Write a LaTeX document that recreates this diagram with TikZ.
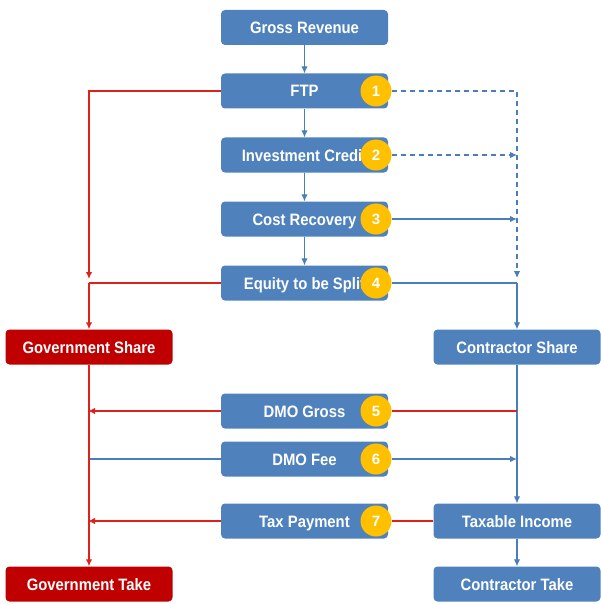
\documentclass[tikz,border=0pt]{standalone}
\usepackage{fontspec}
\setmainfont{Liberation Sans}
\newfontfamily\boxfont[FakeStretch=0.9]{Liberation Sans}
\usetikzlibrary{arrows.meta,calc}
\definecolor{boxblue}{HTML}{4F81BD}
\definecolor{lineblue}{HTML}{4A7EBB}
\definecolor{boxred}{HTML}{C00000}
\definecolor{lred}{HTML}{E0201B}
\definecolor{numyellow}{HTML}{FFC000}
\begin{document}
\begin{tikzpicture}[x=1pt,y=-1pt,
  bbox/.style={fill=boxblue, rounded corners=4pt, minimum width=167pt, minimum height=35pt,
    text=white, font=\boxfont\bfseries\fontsize{16.5}{18}\selectfont, inner sep=0pt,
    text height=12pt, text depth=0pt},
  rbox/.style={bbox, fill=boxred},
  num/.style={circle, fill=numyellow, minimum size=31pt, inner sep=0pt, text=white,
    font=\bfseries\fontsize{15}{16}\selectfont, text height=11pt, text depth=0pt},
  bl/.style={draw=lineblue, line width=1.1pt},
  rl/.style={draw=lred, line width=1.4pt},
  arr/.style={-{Latex[length=7pt,width=6.5pt]}},
  dsh/.style={dash pattern=on 5pt off 4pt}]
\useasboundingbox (0,0) rectangle (600,604);
% boxes
\node[bbox] (gross) at (304.5,27.5) {Gross Revenue};
\node[bbox] (ftp) at (304.5,91) {FTP};
\node[bbox] (inv) at (304.5,155) {Investment Credit};
\node[bbox] (cost) at (304.5,219) {Cost Recovery};
\node[bbox] (eq) at (304.5,283) {Equity to be Split};
\node[rbox] (gshare) at (89,347) {Government Share};
\node[bbox] (cshare) at (517,347) {Contractor Share};
\node[bbox] (dmog) at (304.5,411) {DMO Gross};
\node[bbox] (dmof) at (304.5,459) {DMO Fee};
\node[bbox] (tax) at (304.5,521) {Tax Payment};
\node[bbox] (taxinc) at (517,521) {Taxable Income};
\node[rbox] (gtake) at (89,584) {Government Take};
\node[bbox] (ctake) at (517,584) {Contractor Take};
% numbers
\node[num] (n1) at (376,91) {1};
\node[num] (n2) at (376,155) {2};
\node[num] (n3) at (376,219) {3};
\node[num] (n4) at (376,283) {4};
\node[num] (n5) at (376,411) {5};
\node[num] (n6) at (376,459) {6};
\node[num] (n7) at (376,521) {7};
% junctions
\coordinate (jl) at (eq.west -| gshare.north);
\coordinate (jr) at (eq.east -| cshare.north);
% central chain
\draw[bl,arr] (gross) -- (ftp);
\draw[bl,arr] (ftp) -- (inv);
\draw[bl,arr] (inv) -- (cost);
\draw[bl,arr] (cost) -- (eq);
% left red
\draw[rl,arr,shorten >=4pt] (ftp.west) -| (jl);
\draw[rl] (eq.west) -- (jl);
\draw[rl,arr] (jl) -- (gshare.north);
% right blue
\draw[bl,dsh,arr,shorten >=5pt] (n1.east) -| (jr);
\draw[bl,dsh,arr] (n2.east) -- (n2.east -| cshare.north);
\draw[bl,arr] (n3.east) -- (n3.east -| cshare.north);
\draw[bl] (n4.east) -- (jr);
\draw[bl,arr] (jr) -- (cshare.north);
\draw[bl,arr] (cshare.south) -- (taxinc.north);
\draw[bl,arr] (taxinc.south) -- (ctake.north);
% DMO gross
\draw[rl] (dmog.east -| cshare.south) -- (n5.east);
\draw[rl,arr,shorten >=-1pt] (dmog.west) -- (dmog.west -| gshare.south);
% DMO fee
\draw[bl] (dmof.west -| gshare.south) -- (dmof.west);
\draw[bl,arr] (n6.east) -- (n6.east -| cshare.south);
% tax
\draw[rl] (taxinc.west) -- (n7.east);
\draw[rl,arr,shorten >=-1pt] (tax.west) -- (tax.west -| gshare.south);
% gov take
\draw[rl,arr] (gshare.south) -- (gtake.north);
\end{tikzpicture}
\end{document}
